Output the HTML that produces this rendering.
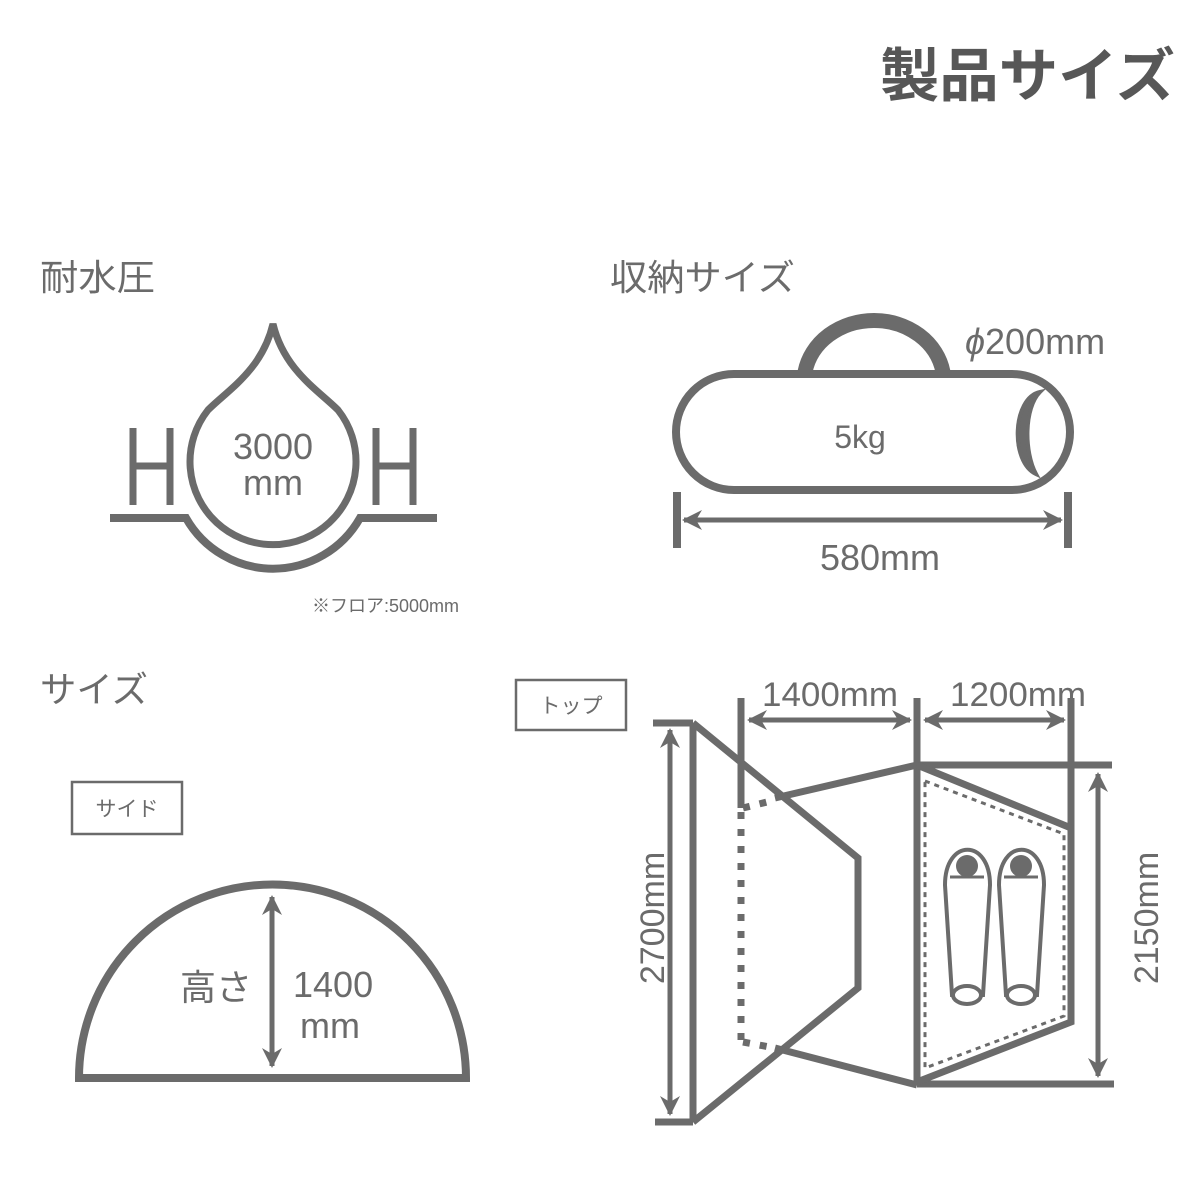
<!DOCTYPE html>
<html><head><meta charset="utf-8"><style>
html,body{margin:0;padding:0;background:#fff;}
svg{display:block;}
text{font-family:"Liberation Sans","Noto Sans CJK JP",sans-serif;fill:#6b6b6b;}
</style></head><body>
<svg width="1200" height="1200" viewBox="0 0 1200 1200" xmlns="http://www.w3.org/2000/svg">
<defs>
<marker id="ah" viewBox="0 0 10 10" refX="9" refY="5" markerWidth="4" markerHeight="4" orient="auto-start-reverse" markerUnits="strokeWidth">
<path d="M0,0 L10,5 L0,10 L3,5 Z" fill="#6b6b6b"/>
</marker>
</defs>
<text x="880" y="96" font-size="58" font-weight="bold" style="fill:#575757" textLength="295" lengthAdjust="spacingAndGlyphs">製品サイズ</text>

<text x="40" y="290" font-size="36" textLength="115" lengthAdjust="spacingAndGlyphs">耐水圧</text>
<text x="610" y="290" font-size="36" textLength="185" lengthAdjust="spacingAndGlyphs">収納サイズ</text>
<text x="40" y="702" font-size="36" textLength="108" lengthAdjust="spacingAndGlyphs">サイズ</text>

<g stroke="#6b6b6b" fill="none" stroke-width="8">
<path d="M273,324 C262,370 228,390 208,410 A83,83 0 1 0 338,410 C318,390 284,370 273,324 Z" stroke-width="7"/>
<path d="M110,518 L186,518 A100,100 0 0 0 360,518 L437,518"/>
<path d="M133,428 V505 M170,428 V505 M133,466 H170" stroke-width="7"/>
<path d="M376,428 V505 M413,428 V505 M376,466 H413" stroke-width="7"/>
</g>
<text x="273" y="459" font-size="36" text-anchor="middle">3000</text>
<text x="273" y="495" font-size="36" text-anchor="middle">mm</text>
<text x="312" y="612" font-size="18">※フロア:5000mm</text>

<g stroke="#6b6b6b" fill="none">
<path d="M805,372 A70,62 0 0 1 943,372" stroke-width="15"/>
<rect x="676" y="374" width="394" height="116" rx="58" stroke-width="8" fill="#fff"/>
<path d="M1040,392 C1012,398 1010,462 1036,474 C1024,452 1024,408 1040,392 Z" stroke-width="4" fill="#6b6b6b"/>
<path d="M677,492 V548 M1068,492 V548" stroke-width="8"/>
<path d="M684,520 H1061" stroke-width="5" marker-start="url(#ah)" marker-end="url(#ah)"/>
</g>
<text x="860" y="448" font-size="32" text-anchor="middle">5kg</text>
<text x="965" y="354" font-size="36"><tspan font-style="italic">ϕ</tspan>200mm</text>
<text x="880" y="570" font-size="36" text-anchor="middle">580mm</text>

<rect x="72" y="782" width="110" height="52" fill="none" stroke="#6b6b6b" stroke-width="2.5"/>
<text x="127" y="816" font-size="21" text-anchor="middle">サイド</text>
<g stroke="#6b6b6b" fill="none">
<path d="M79,1078 A193,193 0 0 1 466,1078 Z" stroke-width="8"/>
<path d="M272,897 V1066" stroke-width="5" marker-start="url(#ah)" marker-end="url(#ah)"/>
</g>
<text x="180" y="1000" font-size="36">高さ</text>
<text x="293" y="997" font-size="36">1400</text>
<text x="300" y="1038" font-size="36">mm</text>

<rect x="516" y="680" width="110" height="50" fill="none" stroke="#6b6b6b" stroke-width="2.5"/>
<text x="571" y="713" font-size="21" text-anchor="middle">トップ</text>
<g stroke="#6b6b6b" fill="none" stroke-width="7">
<path d="M653,723 H693 M655,1122 H693"/>
<path d="M670,730 V1114" stroke-width="5" marker-start="url(#ah)" marker-end="url(#ah)"/>
<path d="M693,723 V1122 M693,723 L858,858 V988 L693,1122"/>
<path d="M741,698 V808"/>
<path d="M741,812 V1042" stroke-dasharray="7 10"/>
<path d="M743,808 L775,800 M743,1042 L775,1048" stroke-dasharray="7 10"/>
<path d="M775,798 L917,765 M775,1048 L917,1085"/>
<path d="M917,698 V1085 M917,765 H1112 M917,1084 H1114 M1071,698 V1023"/>
<path d="M917,765 L1071,828 V1022 L917,1082"/>
<path d="M925,781 L1064,834 V1016 L925,1068 Z" stroke-width="3" stroke-dasharray="5 5"/>
<path d="M1098,774 V1076" stroke-width="5" marker-start="url(#ah)" marker-end="url(#ah)"/>
<path d="M749,720 H910" stroke-width="5" marker-start="url(#ah)" marker-end="url(#ah)"/>
<path d="M925,720 H1064" stroke-width="5" marker-start="url(#ah)" marker-end="url(#ah)"/>
<g stroke-width="4">
<path d="M945,885 C945,838 990,838 990,885 L983,995 L952,995 Z" fill="#fff"/>
<path d="M999,885 C999,838 1044,838 1044,885 L1037,995 L1006,995 Z" fill="#fff"/>
<ellipse cx="967" cy="995" rx="14" ry="9" fill="#fff"/>
<ellipse cx="1021" cy="995" rx="14" ry="9" fill="#fff"/>
<path d="M950,877 H984 M1004,877 H1038" stroke-width="3"/>
</g>
</g>
<circle cx="967" cy="866" r="11" fill="#6b6b6b"/>
<circle cx="1021" cy="866" r="11" fill="#6b6b6b"/>
<text x="830" y="706" font-size="34" text-anchor="middle" textLength="136" lengthAdjust="spacingAndGlyphs">1400mm</text>
<text x="1018" y="706" font-size="34" text-anchor="middle" textLength="136" lengthAdjust="spacingAndGlyphs">1200mm</text>
<text transform="translate(664,918) rotate(-90)" font-size="34" text-anchor="middle">2700mm</text>
<text transform="translate(1158,918) rotate(-90)" font-size="34" text-anchor="middle">2150mm</text>
</svg>
</body></html>
